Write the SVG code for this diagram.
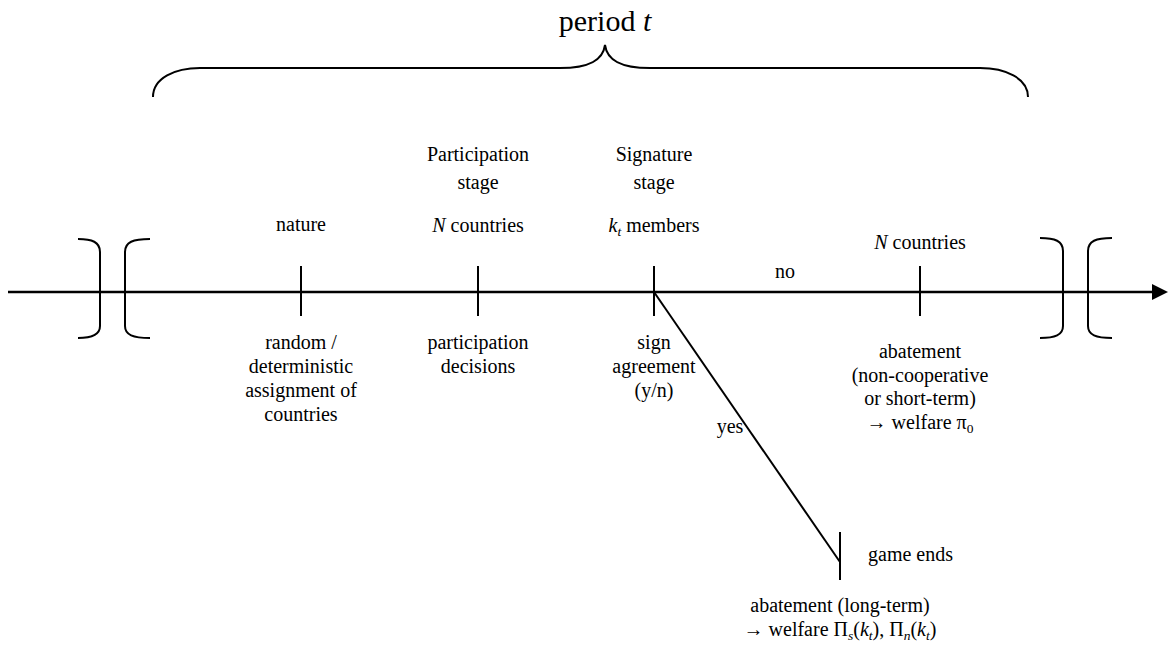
<svg xmlns="http://www.w3.org/2000/svg" width="1172" height="647" viewBox="0 0 1172 647">
<defs>
<style>
text{font-family:"Liberation Serif","Times New Roman",serif;font-size:20px;fill:#000;text-anchor:middle}
.big{font-size:30px}
.ln{stroke:#000;stroke-width:2;fill:none}
.ax{stroke:#000;stroke-width:2.5;fill:none}
.i{font-style:italic}
.s{font-size:13.5px}
</style>
</defs>
<rect width="1172" height="647" fill="#fff"/>
<g id="title">
<text class="big" x="605" y="31">period <tspan class="i">t</tspan></text>
<path class="ln" d="M153,97 C153,78 175,68 200,68 L560,68 C590,68 603,60 605,45 C607,60 620,68 650,68 L980,68 C1005,68 1028,78 1028,97"/>
</g>
<g id="connectors">
<path class="ax" d="M8,292 L1152,292"/>
<path d="M1152,284 L1168,292 L1152,300 z" fill="#000"/>
<path class="ln" d="M654,292 L840,562"/>
</g>
<g id="brackets">
<path class="ln" d="M78,239 C92,239 100,242 100,252 L100,326 C100,335 92,338 78,338"/>
<path class="ln" d="M150,239 C133,239 125,242 125,252 L125,326 C125,335 133,338 150,338"/>
<path class="ln" d="M1040,238 C1055,238 1063,241 1063,251 L1063,326 C1063,335 1055,338 1040,338"/>
<path class="ln" d="M1112,238 C1096,238 1088,241 1088,251 L1088,326 C1088,335 1096,338 1112,338"/>
</g>
<g id="nature">
<path class="ln" d="M301,266 L301,316"/>
<text x="301" y="231">nature</text>
<text x="301" y="349">random /</text>
<text x="301" y="373">deterministic</text>
<text x="301" y="397">assignment of</text>
<text x="301" y="421">countries</text>
</g>
<g id="participation">
<path class="ln" d="M478,266 L478,316"/>
<text x="478" y="161">Participation</text>
<text x="478" y="189">stage</text>
<text x="478" y="232"><tspan class="i">N</tspan> countries</text>
<text x="478" y="349">participation</text>
<text x="478" y="373">decisions</text>
</g>
<g id="signature">
<path class="ln" d="M654,266 L654,316"/>
<text x="654" y="161">Signature</text>
<text x="654" y="189">stage</text>
<text x="654" y="232"><tspan class="i">k</tspan><tspan class="i s" dy="4">t</tspan><tspan dy="-4"> members</tspan></text>
<text x="654" y="349">sign</text>
<text x="654" y="373">agreement</text>
<text x="654" y="397">(y/n)</text>
</g>
<g id="labels">
<text x="785" y="278">no</text>
<text x="730" y="433">yes</text>
</g>
<g id="abatement">
<path class="ln" d="M920,266 L920,316"/>
<text x="920" y="249"><tspan class="i">N</tspan> countries</text>
<text x="920" y="358">abatement</text>
<text x="920" y="382">(non-cooperative</text>
<text x="920" y="405">or short-term)</text>
<text x="920" y="429">→ welfare π<tspan class="s" dy="4">0</tspan></text>
</g>
<g id="end">
<path class="ln" d="M840,532 L840,580"/>
<text x="868" y="561" style="text-anchor:start">game ends</text>
<text x="840" y="612">abatement (long-term)</text>
<text x="840" y="636">→ welfare Π<tspan class="i s" dy="4">s</tspan><tspan dy="-4">(</tspan><tspan class="i">k</tspan><tspan class="i s" dy="4">t</tspan><tspan dy="-4">), Π</tspan><tspan class="i s" dy="4">n</tspan><tspan dy="-4">(</tspan><tspan class="i">k</tspan><tspan class="i s" dy="4">t</tspan><tspan dy="-4">)</tspan></text>
</g>
</svg>
